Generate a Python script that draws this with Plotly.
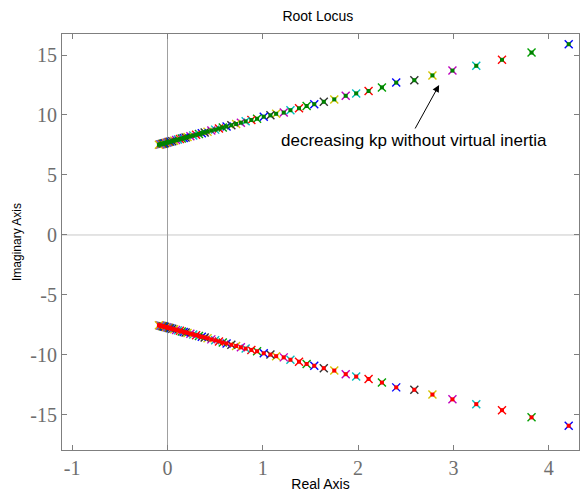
import plotly.graph_objects as go

# Pole locations (upper branch, read from right to left); lower branch is the conjugate
pole_re = [4.21, 3.82, 3.51, 3.24, 2.99, 2.78, 2.59, 2.40, 2.25, 2.11, 1.98, 1.87,
           1.75, 1.64, 1.54, 1.46, 1.38, 1.29, 1.22, 1.14, 1.08, 1.01, 0.94, 0.88,
           0.82, 0.77, 0.72, 0.67, 0.62, 0.58, 0.54, 0.50, 0.46, 0.42, 0.39, 0.36,
           0.33, 0.30, 0.27, 0.24, 0.21, 0.19, 0.17, 0.15, 0.13, 0.11, 0.09, 0.07,
           0.05, 0.03, 0.02, 0.01, 0.00, -0.01, -0.02, -0.03, -0.04, -0.05, -0.06,
           -0.07, -0.08, -0.09]
pole_im = [15.9, 15.2, 14.6, 14.1, 13.7, 13.3, 12.9, 12.7, 12.3, 12.0, 11.8, 11.6,
           11.3, 11.1, 10.9, 10.75, 10.56, 10.4, 10.2, 10.1, 9.97, 9.86, 9.69, 9.58,
           9.47, 9.36, 9.25, 9.15, 9.04, 8.96, 8.87, 8.78, 8.70, 8.61, 8.55, 8.48,
           8.42, 8.36, 8.29, 8.23, 8.16, 8.12, 8.08, 8.04, 7.99, 7.95, 7.91, 7.86,
           7.82, 7.78, 7.76, 7.74, 7.71, 7.69, 7.67, 7.65, 7.63, 7.61, 7.59,
           7.56, 7.54, 7.52]

color_cycle = ["#0000ff", "#00a000", "#ff0000", "#00bfbf", "#bf00bf", "#d4c400", "#303030"]
x_ticks = [-1, 0, 1, 2, 3, 4]
x_tick_text = ["-1", "0", "1", "2", "3", "4"]
y_ticks = [-15, -10, -5, 0, 5, 10, 15]
y_tick_text = ["-15", "-10", "-5", "0", "5", "10", "15"]

mk_colors = [color_cycle[i % 7] for i in range(len(pole_re))]
lower_im = [-v for v in pole_im]

fig = go.Figure()
fig.add_shape(type="line", x0=-1.2, x1=4.5, y0=0, y1=0, xref="x", yref="y",
              line=dict(color="#c8c8c8", width=1), layer="below")
fig.add_shape(type="line", x0=0, x1=0, y0=-19, y1=18, xref="x", yref="y",
              line=dict(color="#a0a0a0", width=1), layer="below")

for ys, sq_color in [(pole_im, "#008000"), (lower_im, "#ff0000")]:
    fig.add_trace(go.Scatter(x=pole_re, y=ys, mode="markers",
                             marker=dict(symbol="x-thin-open", size=8, color=mk_colors,
                                         line=dict(color=mk_colors, width=1.4)),
                             hoverinfo="skip", showlegend=False))
    fig.add_trace(go.Scatter(x=pole_re, y=ys, mode="markers",
                             marker=dict(symbol="square", size=4, color=sq_color,
                                         line=dict(width=0)),
                             hoverinfo="skip", showlegend=False))

fig.add_annotation(x=2.85, y=12.5, ax=2.59, ay=8.75, xref="x", yref="y",
                   axref="x", ayref="y", showarrow=True, arrowhead=2,
                   arrowsize=1.4, arrowwidth=1, arrowcolor="#000000", text="")
fig.add_annotation(x=2.59, y=7.85, xref="x", yref="y", showarrow=False,
                   text="decreasing kp without virtual inertia",
                   font=dict(family="Liberation Sans, Arial", size=17, color="#000000"))

axis_common = dict(showline=True, linecolor="#7f7f7f", linewidth=1, ticks="inside",
                   ticklen=5, tickcolor="#7f7f7f", mirror="ticks", showgrid=False,
                   zeroline=False,
                   tickfont=dict(family="Liberation Serif, Times New Roman", size=20,
                                 color="#6e6e6e"))
fig.update_xaxes(range=[-1.107, 4.318], tickvals=x_ticks, ticktext=x_tick_text,
                 title=dict(text="Real Axis", standoff=1,
                            font=dict(family="Liberation Sans, Arial", size=14, color="#000")),
                 **axis_common)
fig.update_yaxes(range=[-17.92, 16.75], tickvals=y_ticks, ticktext=y_tick_text,
                 title=dict(text="Imaginary Axis", standoff=6,
                            font=dict(family="Liberation Sans, Arial", size=12, color="#000")),
                 **axis_common)
fig.update_layout(width=580, height=495, plot_bgcolor="white", paper_bgcolor="white",
                  margin=dict(l=62, r=1, t=34, b=45),
                  title=dict(text="Root Locus", x=0.548, xanchor="center", y=0.968,
                             yanchor="middle",
                             font=dict(family="Liberation Sans, Arial", size=14, color="#000")))
fig.write_html("out.html")
